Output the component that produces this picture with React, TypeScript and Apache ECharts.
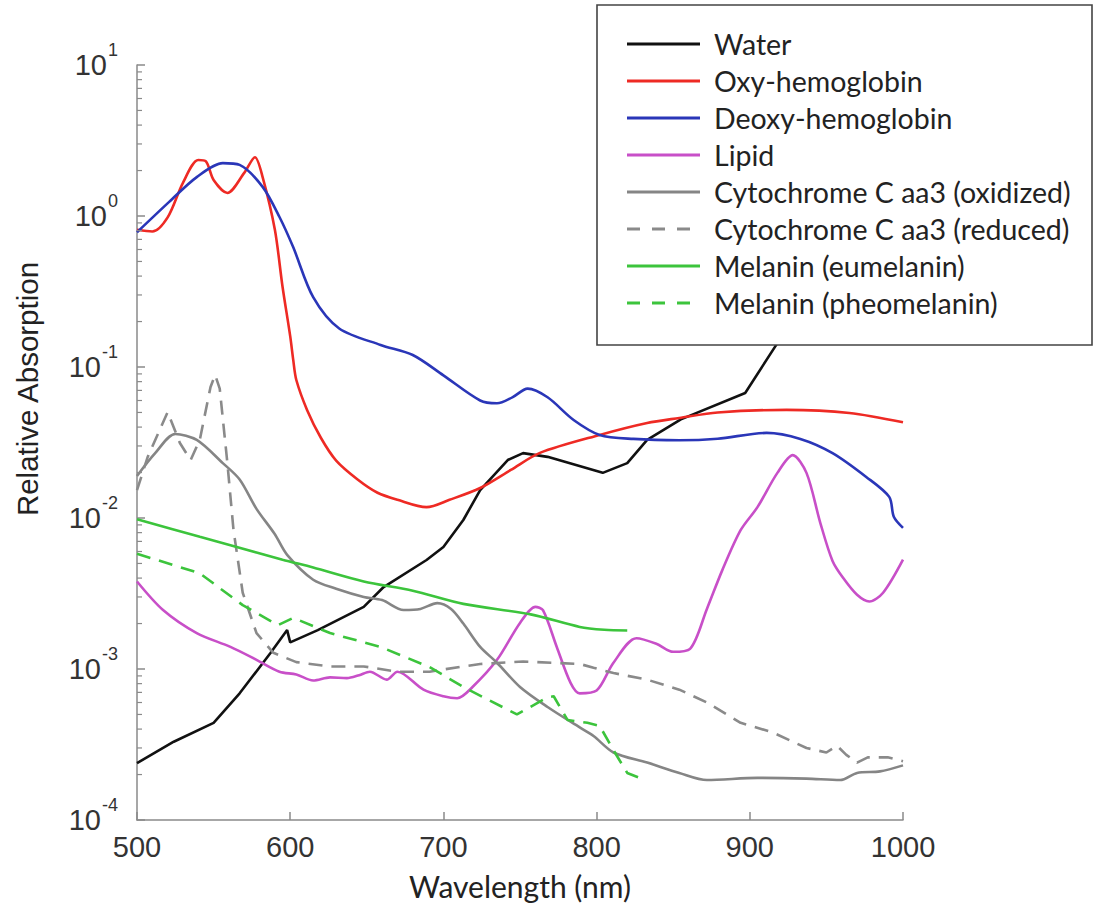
import React, { useEffect, useRef } from "react";
import * as echarts from "echarts";

// ---- data (wavelength in nm, relative absorption) ----
const waterNm = [500, 524, 550, 567, 587, 598, 600, 618, 648, 661, 689, 700, 713, 724, 742, 752, 768, 804, 820, 833, 855, 897, 918, 940, 960, 975, 1000];
const waterAbs = [0.000238, 0.00033, 0.00044, 0.00069, 0.00127, 0.00181, 0.0015, 0.00181, 0.00258, 0.00349, 0.00527, 0.00643, 0.0097, 0.0153, 0.0242, 0.0269, 0.0254, 0.0199, 0.0231, 0.0329, 0.045, 0.0673, 0.144, 0.3, 0.42, 0.45, 0.38];

const oxyNm = [500, 510, 520, 530, 540, 545, 550, 559, 570, 577, 582, 590, 595, 600, 602, 604, 611, 620, 630, 644, 657, 670, 689, 704, 724, 744, 763, 802, 833, 854, 879, 924, 965, 1000];
const oxyAbs = [0.81, 0.79, 0.98, 1.66, 2.35, 2.3, 1.73, 1.42, 1.93, 2.45, 1.81, 0.81, 0.34, 0.16, 0.111, 0.082, 0.052, 0.034, 0.024, 0.018, 0.0147, 0.0132, 0.0118, 0.0132, 0.0158, 0.0208, 0.027, 0.0355, 0.0426, 0.046, 0.05, 0.052, 0.0496, 0.043];

const deoxyNm = [500, 521, 539, 556, 567, 582, 593, 602, 615, 632, 659, 680, 700, 724, 735, 745, 755, 768, 785, 802, 824, 854, 879, 911, 933, 954, 976, 991, 994, 1000];
const deoxyAbs = [0.78, 1.24, 1.81, 2.24, 2.18, 1.56, 0.985, 0.62, 0.29, 0.18, 0.14, 0.12, 0.088, 0.06, 0.0575, 0.063, 0.0719, 0.063, 0.0446, 0.0355, 0.0334, 0.0327, 0.0335, 0.0366, 0.0334, 0.0269, 0.0187, 0.0138, 0.0102, 0.0086];

const lipidNm = [500, 517, 539, 561, 578, 593, 604, 615, 626, 637, 645, 652, 663, 670, 687, 700, 709, 719, 735, 750, 760, 765, 774, 783, 789, 800, 811, 826, 839, 850, 861, 872, 882, 894, 905, 918, 928, 937, 946, 954, 961, 970, 978, 987, 1000];
const lipidAbs = [0.0038, 0.00246, 0.00173, 0.0014, 0.00115, 0.00096, 0.00092, 0.00084, 0.00088, 0.00087, 0.00091, 0.00096, 0.00085, 0.00096, 0.00073, 0.00066, 0.00064, 0.00076, 0.00115, 0.00202, 0.00258, 0.00245, 0.0014, 0.00081, 0.00069, 0.00072, 0.0011, 0.0016, 0.00147, 0.0013, 0.00136, 0.0025, 0.0045, 0.0083, 0.0118, 0.0199, 0.0261, 0.0199, 0.0093, 0.0052, 0.004, 0.0031, 0.0028, 0.0032, 0.0053];

const cytOxNm = [500, 512, 525, 539, 556, 567, 578, 590, 598, 615, 630, 648, 660, 674, 685, 696, 705, 713, 724, 735, 750, 768, 789, 798, 811, 833, 854, 872, 905, 937, 959, 970, 985, 1000];
const cytOxAbs = [0.019, 0.027, 0.036, 0.0329, 0.0231, 0.018, 0.0115, 0.0078, 0.0057, 0.0039, 0.0034, 0.003, 0.00286, 0.00246, 0.0025, 0.00273, 0.0025, 0.002, 0.0014, 0.0011, 0.00076, 0.00056, 0.00041, 0.00036, 0.00028, 0.00024, 0.000205, 0.000184, 0.00019, 0.000188, 0.000184, 0.000205, 0.00021, 0.00023];

const cytRedNm = [500, 507, 520, 528, 535, 541, 548, 551, 554, 559, 563, 569, 578, 589, 604, 626, 648, 670, 691, 713, 724, 752, 789, 798, 811, 833, 854, 872, 894, 915, 937, 950, 957, 963, 970, 977, 990, 1000];
const cytRedAbs = [0.0153, 0.0254, 0.0503, 0.0314, 0.0242, 0.033, 0.0738, 0.0886, 0.072, 0.0231, 0.0083, 0.0032, 0.00173, 0.00128, 0.00111, 0.00104, 0.00104, 0.00096, 0.00096, 0.00104, 0.00108, 0.00112, 0.00108, 0.00102, 0.00094, 0.00085, 0.00073, 0.0006, 0.00044, 0.00038, 0.0003, 0.00028, 0.00031, 0.00027, 0.00024, 0.00026, 0.00026, 0.000245];

const euNm = [500, 541, 561, 595, 615, 648, 680, 713, 757, 789, 805, 820];
const euAbs = [0.0098, 0.0075, 0.0066, 0.0053, 0.0047, 0.0038, 0.0033, 0.0027, 0.0023, 0.0019, 0.00182, 0.0018];

const pheoNm = [500, 541, 569, 592, 602, 626, 659, 691, 713, 730, 748, 768, 772, 781, 794, 802, 811, 820, 828];
const pheoAbs = [0.0058, 0.0043, 0.00265, 0.00195, 0.00218, 0.00173, 0.0014, 0.00103, 0.00076, 0.00062, 0.0005, 0.00065, 0.00066, 0.00046, 0.00044, 0.00042, 0.00029, 0.000205, 0.00019];

const seriesNames = [
  "Water",
  "Oxy-hemoglobin",
  "Deoxy-hemoglobin",
  "Lipid",
  "Cytochrome C aa3 (oxidized)",
  "Cytochrome C aa3 (reduced)",
  "Melanin (eumelanin)",
  "Melanin (pheomelanin)",
];
const seriesColors = ["#111111", "#ee2a24", "#2a36b8", "#c84fc8", "#858585", "#8a8a8a", "#3cc43c", "#3cc43c"];
const seriesDashed = [false, false, false, false, false, true, false, true];
const seriesSmooth = [0, 0.3, 0.3, 0.3, 0.3, 0, 0.3, 0];

const xTicks = [500, 600, 700, 800, 900, 1000];
const decades = [0.0001, 0.001, 0.01, 0.1, 1];
const minorMultipliers = [2, 3, 4, 5, 6, 7, 8, 9];

const pair = (xs: number[], ys: number[]) => xs.map((x, i) => [x, ys[i]]);

const AXIS_GREY = "#8a8a8a";
const LABEL_FONT = "'Liberation Sans', Arial, Helvetica, sans-serif";
const TEXT_FONT = "Lato, 'Open Sans', sans-serif";
const PLOT_DASH = [14, 9];

export default function App() {
  const ref = useRef<HTMLDivElement>(null);
  useEffect(() => {
    const chart = echarts.init(ref.current!, null, { renderer: "svg" });
    const minorTicks: number[][] = [];
    decades.forEach((d) => minorMultipliers.forEach((m) => minorTicks.push([xTicks[0], d * m])));

    const dataSets = [
      pair(waterNm, waterAbs),
      pair(oxyNm, oxyAbs),
      pair(deoxyNm, deoxyAbs),
      pair(lipidNm, lipidAbs),
      pair(cytOxNm, cytOxAbs),
      pair(cytRedNm, cytRedAbs),
      pair(euNm, euAbs),
      pair(pheoNm, pheoAbs),
    ];

    const lineSeries = seriesNames.map((name, i) => ({
      type: "line",
      name,
      data: dataSets[i],
      symbol: "none",
      showSymbol: false,
      smooth: seriesSmooth[i] || false,
      lineStyle: { color: seriesColors[i], width: 2.6, type: seriesDashed[i] ? PLOT_DASH : "solid" },
      itemStyle: { color: seriesColors[i] },
      z: 2,
    }));

    // legend drawn as graphic elements (box covers the plot like the original)
    const legendTop = 44;
    const legendStep = 37;
    const legendEls: any[] = [
      {
        type: "rect",
        z: 10,
        shape: { x: 597, y: 5, width: 495, height: 340 },
        style: { fill: "#ffffff", stroke: "#444", lineWidth: 1.6 },
      },
    ];
    seriesNames.forEach((name, i) => {
      const y = legendTop + legendStep * i;
      legendEls.push({
        type: "line",
        z: 11,
        shape: { x1: 627, y1: y, x2: seriesDashed[i] ? 691 : 700, y2: y },
        style: {
          stroke: seriesColors[i],
          lineWidth: 2.8,
          lineDash: seriesDashed[i] ? [13, 12] : null,
        },
      });
      legendEls.push({
        type: "text",
        z: 11,
        x: 714,
        y: y,
        style: {
          text: name,
          fontSize: 28.5,
          fontFamily: TEXT_FONT,
          fill: "#222",
          align: "left",
          verticalAlign: "middle",
        },
      });
    });

    const option: any = {
      animation: false,
      backgroundColor: "#ffffff",
      grid: { left: 137, right: 192, top: 65, bottom: 88, containLabel: false },
      xAxis: {
        type: "value",
        min: 500,
        max: 1000,
        interval: 100,
        axisLine: { show: true, lineStyle: { color: AXIS_GREY, width: 1.5 } },
        axisTick: { show: true, inside: true, length: 8, lineStyle: { color: AXIS_GREY, width: 1.5 } },
        splitLine: { show: false },
        axisLabel: {
          fontSize: 29,
          fontFamily: LABEL_FONT,
          color: "#333",
          margin: 12,
          formatter: (v: number) => String(v),
        },
      },
      yAxis: {
        type: "log",
        logBase: 10,
        min: 0.0001,
        max: 10,
        splitNumber: 5,
        axisLine: { show: true, lineStyle: { color: AXIS_GREY, width: 1.5 } },
        axisTick: { show: true, inside: true, length: 8, lineStyle: { color: AXIS_GREY, width: 1.5 } },
        splitLine: { show: false },
        axisLabel: {
          margin: 19,
          formatter: (v: number) => {
            const e = Math.round(Math.log10(v));
            return `{b|10}{e|${e}}`;
          },
          rich: {
            b: { fontSize: 29, lineHeight: 29, fontFamily: LABEL_FONT, color: "#333", verticalAlign: "bottom" },
            e: { fontSize: 18, lineHeight: 18, fontFamily: LABEL_FONT, color: "#333", verticalAlign: "bottom", padding: [0, 0, 21, 1] },
          },
        },
      },
      graphic: [
        ...legendEls,
        {
          type: "text",
          x: 27,
          y: 389,
          rotation: Math.PI / 2,
          style: {
            text: "Relative Absorption",
            fontSize: 29.5,
            fontFamily: LABEL_FONT,
            fill: "#222",
            align: "center",
            verticalAlign: "middle",
          },
        },
        {
          type: "text",
          x: 520,
          y: 886,
          style: {
            text: "Wavelength (nm)",
            fontSize: 30,
            fontFamily: TEXT_FONT,
            fill: "#222",
            align: "center",
            verticalAlign: "middle",
          },
        },
      ],
      series: [
        ...lineSeries,
        {
          type: "custom",
          name: "minorTicks",
          silent: true,
          data: minorTicks,
          z: 3,
          renderItem: (_params: any, api: any) => {
            const p = api.coord([api.value(0), api.value(1)]);
            return {
              type: "line",
              shape: { x1: p[0], y1: p[1], x2: p[0] + 5, y2: p[1] },
              style: { stroke: AXIS_GREY, lineWidth: 1.2 },
            };
          },
        },
      ],
    };
    chart.setOption(option);
    return () => chart.dispose();
  }, []);
  return (
    <div
      ref={ref}
      style={{ position: "fixed", left: 0, top: 0, width: 1095, height: 908, background: "#fff" }}
    />
  );
}
